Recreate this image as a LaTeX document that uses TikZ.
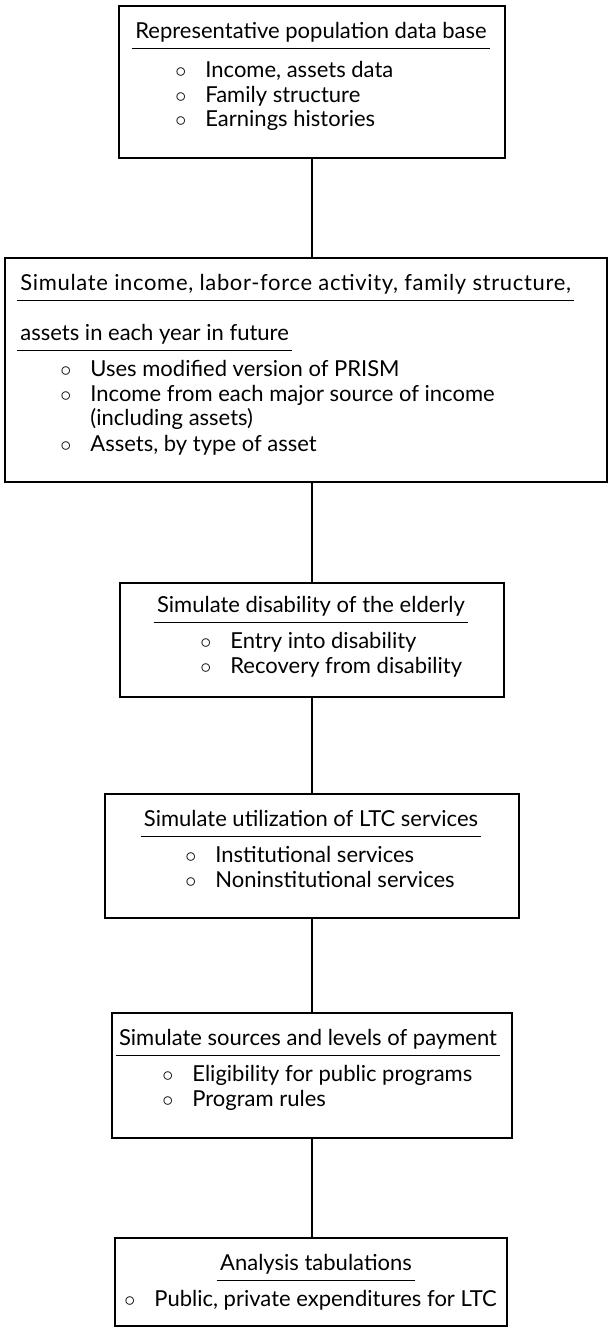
\documentclass[tikz,border=0pt]{standalone}
\usepackage{fontspec}
\setmainfont{Lato}
\usetikzlibrary{positioning}

\newcommand{\bul}{\makebox[15pt][l]{$\circ$}}

\tikzset{
  stage/.style={draw, line width=0.9pt, inner sep=0pt, anchor=north west},
  head/.style={anchor=base, inner xsep=1.5pt, inner ysep=0pt, font=\fontsize{11}{13}\selectfont,
    append after command={(\tikzlastnode.south west) edge[line width=0.7pt] (\tikzlastnode.south east)}},
  item/.style={anchor=base west, inner sep=0pt, font=\fontsize{11}{12.5}\selectfont},
  link/.style={line width=0.9pt}
}
\newcommand{\hs}{\rule[-5pt]{0pt}{0pt}}

\begin{document}
\begin{tikzpicture}[x=0.5pt, y=-0.5pt]
  \useasboundingbox (0,0) rectangle (609,1328);

  % boxes
  \node[stage, minimum width=193pt, minimum height=76pt] (base) at (118,5) {};
  \node[stage, minimum width=301pt, minimum height=112pt] (sim) at (4,257) {};
  \node[stage, minimum width=192pt, minimum height=57pt] (dis) at (119,582) {};
  \node[stage, minimum width=207pt, minimum height=62pt] (ltc) at (104,793) {};
  \node[stage, minimum width=200pt, minimum height=62.5pt] (pay) at (111,1012) {};
  \node[stage, minimum width=196pt, minimum height=44pt] (tab) at (114,1237) {};

  % texts
  \node[head] (baseT) at (311,38) {\hs Representative population data base};
  \node[item] (baseA) at (175,77) {\bul Income, assets data};
  \node[item] (baseB) at (175,102) {\bul Family structure};
  \node[item] (baseC) at (175,126) {\bul Earnings histories};

  \node[head, anchor=base west] (simT) at (17,290) {\hs\addfontfeature{LetterSpace=3}Simulate income, labor-force activity, family structure,};
  \node[head, anchor=base west] (simU) at (17,340) {\hs assets in each year in future};
  \node[item] (simA) at (60,376) {\bul Uses modified version of PRISM};
  \node[item] (simB) at (60,401) {\bul Income from each major source of income};
  \node[item] (simB2) at (90,425) {(including assets)};
  \node[item] (simC) at (60,451) {\bul Assets, by type of asset};

  \node[head] (disT) at (311,612) {\hs Simulate disability of the elderly};
  \node[item] (disA) at (200,648) {\bul Entry into disability};
  \node[item] (disB) at (200,673) {\bul Recovery from disability};

  \node[head] (ltcT) at (311,826) {\hs Simulate utilization of LTC services};
  \node[item] (ltcA) at (185,862) {\bul Institutional services};
  \node[item] (ltcB) at (185,887) {\bul Noninstitutional services};

  \node[head] (payT) at (308,1045) {\hs Simulate sources and levels of payment};
  \node[item] (payA) at (162,1081) {\bul Eligibility for public programs};
  \node[item] (payB) at (162,1106) {\bul Program rules};

  \node[head] (tabT) at (316,1270) {\hs Analysis tabulations};
  \node[item] (tabA) at (124,1306) {\bul Public, private expenditures for LTC};

  % connectors
  \draw[link] (base.south) -- (base.south |- sim.north);
  \draw[link] (base.south |- sim.south) -- (base.south |- dis.north);
  \draw[link] (dis.south) -- (dis.south |- ltc.north);
  \draw[link] (dis.south |- ltc.south) -- (dis.south |- pay.north);
  \draw[link] (dis.south |- pay.south) -- (dis.south |- tab.north);
\end{tikzpicture}
\end{document}
